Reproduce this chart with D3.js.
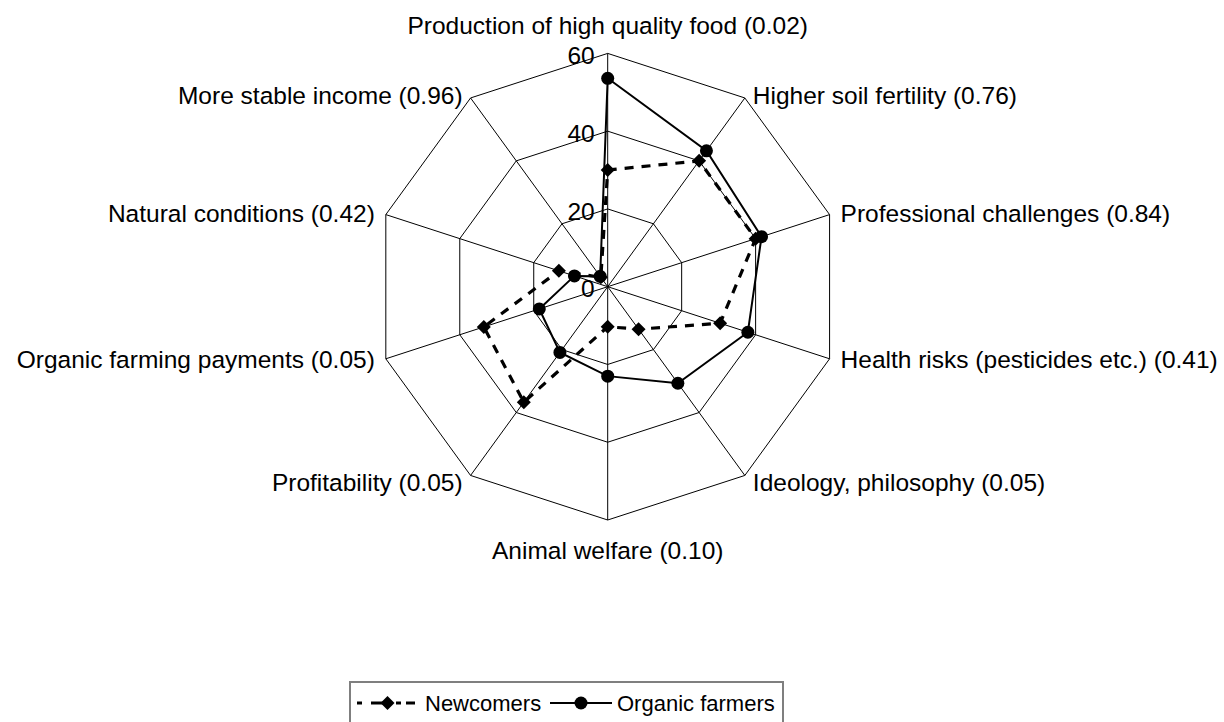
<!DOCTYPE html>
<html>
<head>
<meta charset="utf-8">
<script src="https://cdn.jsdelivr.net/npm/d3@7"></script>
<style>
  html, body { margin: 0; padding: 0; background: #fff; }
  svg { display: block; font-family: "Liberation Sans", Arial, sans-serif; }
</style>
</head>
<body>
<svg id="chart" width="1224" height="722"></svg>
<script>
// ---- data ----
const categories = [
  "Production of high quality food (0.02)",
  "Higher soil fertility (0.76)",
  "Professional challenges (0.84)",
  "Health risks (pesticides etc.) (0.41)",
  "Ideology, philosophy (0.05)",
  "Animal welfare (0.10)",
  "Profitability (0.05)",
  "Organic farming payments (0.05)",
  "Natural conditions (0.42)",
  "More stable income (0.96)"
];
const newcomers = [30, 40, 40, 30.4, 13.5, 10.3, 36.7, 33.5, 13.2, 3.0];
const organicFarmers = [53.6, 43.2, 41.6, 37.9, 30.7, 23.0, 20.9, 18.5, 9.0, 3.3];
const tickValues = [0, 20, 40, 60];
const seriesNames = ["Newcomers", "Organic farmers"];

// ---- layout ----
const svg = d3.select("#chart");
const cx = 607.7, cy = 286.7, R = 233.3;
const r = d3.scaleLinear().domain([0, 60]).range([0, R]);
const n = categories.length;
const ang = d3.scaleLinear().domain([0, n]).range([0, 2 * Math.PI]);
const g = svg.append("g").attr("transform", `translate(${cx},${cy})`);

function pt(i, v) {
  const a = ang(i);
  return [r(v) * Math.sin(a), -r(v) * Math.cos(a)];
}

// grid rings
const rings = tickValues.filter(t => t > 0);
g.selectAll("polygon.ring").data(rings).enter().append("polygon")
  .attr("class", "ring")
  .attr("points", t => d3.range(n).map(i => pt(i, t).join(",")).join(" "))
  .attr("fill", "none").attr("stroke", "#000").attr("stroke-width", 1);

// spokes
g.selectAll("line.spoke").data(d3.range(n)).enter().append("line")
  .attr("class", "spoke")
  .attr("x1", 0).attr("y1", 0)
  .attr("x2", i => pt(i, 60)[0]).attr("y2", i => pt(i, 60)[1])
  .attr("stroke", "#000").attr("stroke-width", 1);

// tick labels
g.selectAll("text.tick").data(tickValues).enter().append("text")
  .attr("class", "tick")
  .attr("x", -13).attr("y", t => -r(t) + 2)
  .attr("dy", "0.35em")
  .attr("text-anchor", "end")
  .attr("font-size", 24.5)
  .attr("fill", "#000")
  .text(t => t);

// category labels
const labelOffsets = [
  [0, -28], [8, -3], [11, -1], [11, 1], [8, 7],
  [0, 30], [-8, 7], [-11, 1], [-11, -1], [-8, -3]
];
g.selectAll("text.cat").data(categories).enter().append("text")
  .attr("class", "cat")
  .attr("x", (d, i) => pt(i, 60)[0] + labelOffsets[i][0])
  .attr("y", (d, i) => pt(i, 60)[1] + labelOffsets[i][1])
  .attr("dy", "0.35em")
  .attr("text-anchor", (d, i) => i === 0 || i === 5 ? "middle" : (i < 5 ? "start" : "end"))
  .attr("font-size", 24.5)
  .attr("fill", "#000")
  .text(d => d);

const lineGen = d3.line().curve(d3.curveLinearClosed);

function diamondPath(s) {
  return `M0,${-s}L${s},0L0,${s}L${-s},0Z`;
}

// Newcomers series
const nPts = newcomers.map((v, i) => pt(i, v));
g.append("path").attr("d", lineGen(nPts))
  .attr("fill", "none").attr("stroke", "#000").attr("stroke-width", 3.2)
  .attr("stroke-dasharray", "9,8");
g.selectAll("path.dia").data(nPts).enter().append("path")
  .attr("class", "dia")
  .attr("transform", d => `translate(${d[0]},${d[1]})`)
  .attr("d", diamondPath(7))
  .attr("fill", "#000");

// Organic farmers series
const oPts = organicFarmers.map((v, i) => pt(i, v));
g.append("path").attr("d", lineGen(oPts))
  .attr("fill", "none").attr("stroke", "#000").attr("stroke-width", 2);
g.selectAll("circle.dot").data(oPts).enter().append("circle")
  .attr("class", "dot")
  .attr("cx", d => d[0]).attr("cy", d => d[1])
  .attr("r", 6.5).attr("fill", "#000");

// legend
const lg = svg.append("g");
lg.append("rect").attr("x", 350).attr("y", 682).attr("width", 433).attr("height", 42)
  .attr("fill", "#fff").attr("stroke", "#7f7f7f").attr("stroke-width", 2);
const ly = 703;
lg.append("line").attr("x1", 357).attr("x2", 418).attr("y1", ly).attr("y2", ly)
  .attr("stroke", "#000").attr("stroke-width", 3.2).attr("stroke-dasharray", "5,9,16,9,5");
lg.append("path").attr("transform", `translate(387.5,${ly})`).attr("d", diamondPath(7)).attr("fill", "#000");
lg.append("text").attr("x", 425).attr("y", ly).attr("dy", "0.35em")
  .attr("font-size", 22).attr("fill", "#000").text(seriesNames[0]);
lg.append("line").attr("x1", 550).attr("x2", 612).attr("y1", ly).attr("y2", ly)
  .attr("stroke", "#000").attr("stroke-width", 2);
lg.append("circle").attr("cx", 581).attr("cy", ly).attr("r", 6.5).attr("fill", "#000");
lg.append("text").attr("x", 617).attr("y", ly).attr("dy", "0.35em")
  .attr("font-size", 22).attr("fill", "#000").text(seriesNames[1]);
</script>
</body>
</html>
